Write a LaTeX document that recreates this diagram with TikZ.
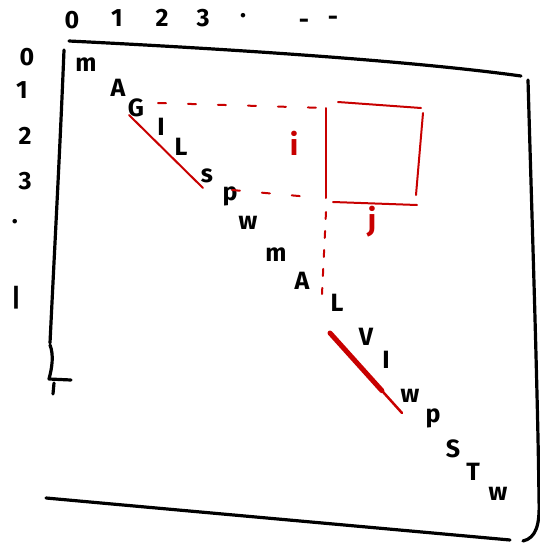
\documentclass[tikz,border=0pt]{standalone}
\usepackage{fontspec}
\setmainfont{Fira Sans}
\usetikzlibrary{calc}
\definecolor{pen}{RGB}{200,0,0}
\begin{document}
\begin{tikzpicture}[x=1pt,y=-1pt,
  ink/.style={line width=3.2pt,line cap=round,line join=round},
  red/.style={draw=pen,line width=2pt,line cap=round},
  reddash/.style={draw=pen,line width=2pt,line cap=round,dash pattern=on 8pt off 22pt},
  letter/.style={font=\fontsize{25}{25}\selectfont\bfseries,inner sep=0pt},
  axis/.style={font=\fontsize{25}{25}\selectfont\bfseries,inner sep=0pt},
  redlab/.style={font=\fontsize{30}{30}\selectfont\bfseries,text=pen,inner sep=0pt}]
\useasboundingbox (0,0) rectangle (540,544);
% axis labels top
\node[axis] (t0) at (72,20) {0};
\node[axis] (t1) at (117,18) {1};
\node[axis] (t2) at (162,18) {2};
\node[axis] (t3) at (203,18) {3};
\node[axis] (t4) at (243,16) {.};
\node[axis] (t5) at (304,24) {-};
\node[axis] (t6) at (333,21) {-};
% axis labels left
\node[axis] (l0) at (27,57) {0};
\node[axis] (l1) at (22,90) {1};
\node[axis] (l2) at (25,136) {2};
\node[axis] (l3) at (25,181) {3};
\node[axis] (l4) at (15,222) {.};
\node[axis] (l5) at (16,298) {|};
% frame
\draw[ink] (69,41) .. controls (250,50) and (420,62) .. (521,76);
\draw[ink] (64,50) .. controls (60,150) and (54,260) .. (50,343);
\draw[ink] (50,345) .. controls (54,355) and (52,368) .. (49,379) -- (71,380);
\draw[ink] (54,383) -- (53,394);
\draw[ink] (528,80) .. controls (532,220) and (538,400) .. (539,500) .. controls (540,525) and (536,538) .. (523,541);
\draw[ink] (46,498) .. controls (200,512) and (400,530) .. (510,540);
% diagonal letters
\node[letter] (m1) at (86,65) {m};
\node[letter] (a1) at (118,88) {A};
\node[letter] (g1) at (136,108) {G};
\node[letter] (i1) at (161,127) {I};
\node[letter] (L1) at (181,147) {L};
\node[letter] (s1) at (207,176) {s};
\node[letter] (p1) at (230,196) {p};
\node[letter] (w1) at (248,223) {w};
\node[letter] (m2) at (276,255) {m};
\node[letter] (a2) at (302,281) {A};
\node[letter] (L2) at (337,303) {L};
\node[letter] (v2) at (366,337) {V};
\node[letter] (i2) at (386,360) {I};
\node[letter] (w2) at (410,396) {w};
\node[letter] (p2) at (433,418) {p};
\node[letter] (s2) at (453,449) {S};
\node[letter] (t2b) at (473,472) {T};
\node[letter] (w3) at (498,494) {w};
% red annotations
\coordinate (ra) at (129,115);
\coordinate (rb) at (203,188);
\draw[red] (ra) -- (rb);
\coordinate (ta) at (330,333);
\coordinate (tb) at (402,413);
\draw[draw=pen,line width=5pt,line cap=round] (ta) -- ($(ta)!0.72!(tb)$);
\draw[draw=pen,line width=2.5pt,line cap=round] (ta) -- (tb);
% box
\coordinate (bx1) at (326,108);
\coordinate (bx2) at (326,198);
\draw[red] (bx1) -- (bx2);
\draw[red] (338,102) -- (421,108);
\draw[red] (423,113) -- (416,195);
\draw[red] (333,202) -- (417,205);
% dashed guides
\draw[reddash] (158,103) -- (326,108);
\draw[reddash] (232,190) -- (310,197);
\draw[draw=pen,line width=2pt,line cap=round,dash pattern=on 7pt off 12pt] (326,212) -- (322,294);
\node[redlab] (ilab) at (294,143) {i};
\node[redlab] (jlab) at (372,222) {j};
\end{tikzpicture}
\end{document}
